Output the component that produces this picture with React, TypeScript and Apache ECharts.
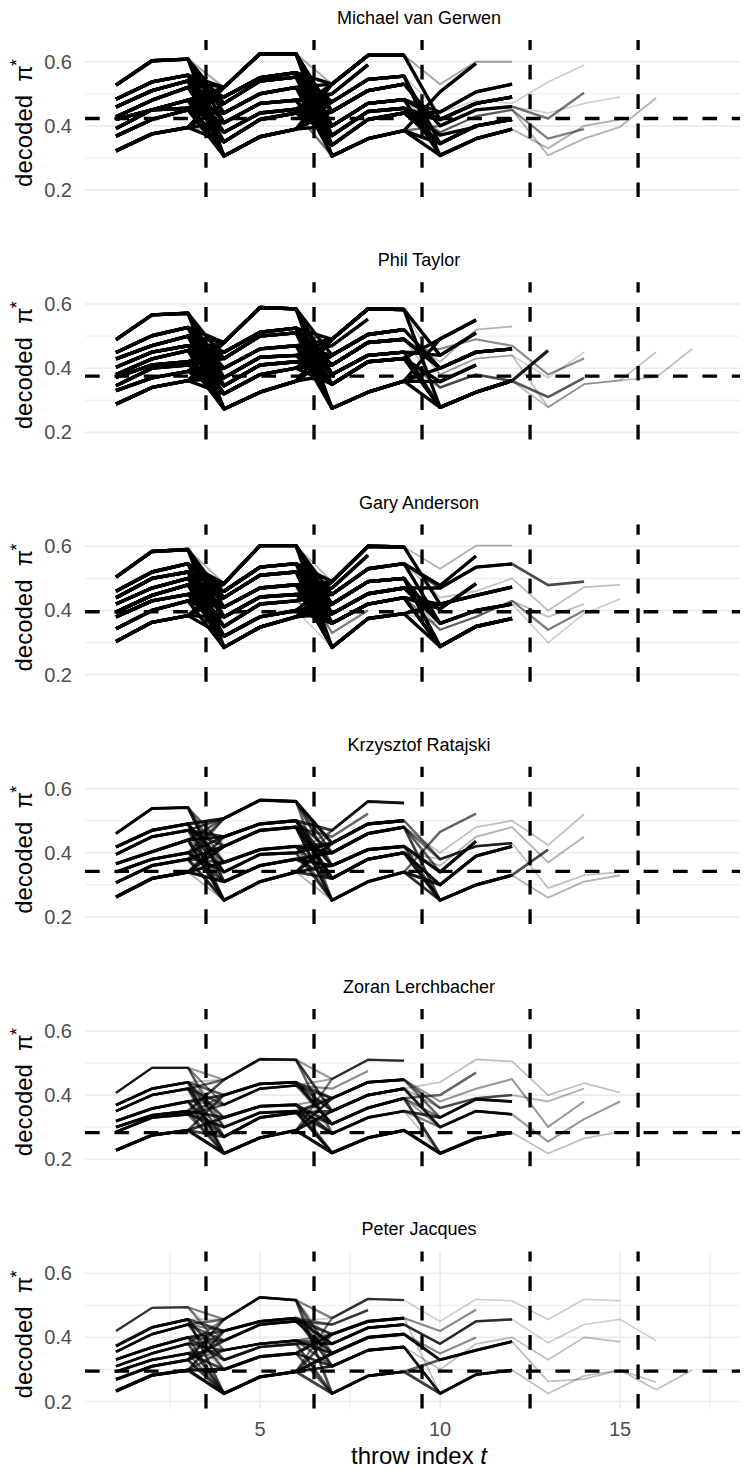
import React, { useEffect, useRef } from "react";
import * as echarts from "echarts";

// ---------------- data ----------------
const players = [
  "Michael van Gerwen",
  "Phil Taylor",
  "Gary Anderson",
  "Krzysztof Ratajski",
  "Zoran Lerchbacher",
  "Peter Jacques",
];
const refLevels = [0.423, 0.375, 0.396, 0.342, 0.283, 0.295];
const visitBreaks = [3.5, 6.5, 9.5, 12.5, 15.5];
const yTicks = [0.2, 0.4, 0.6];
const yGridMajor = [0.2, 0.4, 0.6];
const yGridMinor = [0.3, 0.5];
const xTicks = [5, 10, 15];
const xGridMajorLast = [5, 10, 15];
const xGridMinorLast = [2.5, 7.5, 12.5, 17.5];

// Each panel: decoded values per visit (three throws), the visit levels each leg passes through, and its frequency weight
const mvgLevels: number[][][] = [
  [[0.527, 0.603, 0.608], [0.483, 0.537, 0.558], [0.459, 0.51, 0.54], [0.428, 0.48, 0.52], [0.42, 0.45, 0.48], [0.392, 0.45, 0.455], [0.368, 0.42, 0.45], [0.322, 0.375, 0.395]],
  [[0.52, 0.625, 0.625], [0.49, 0.55, 0.566], [0.47, 0.54, 0.552], [0.44, 0.5, 0.52], [0.41, 0.47, 0.48], [0.38, 0.44, 0.452], [0.35, 0.42, 0.44], [0.306, 0.366, 0.39]],
  [[0.53, 0.62, 0.62], [0.5, 0.59], [0.475, 0.545, 0.555], [0.445, 0.51, 0.53], [0.4, 0.47, 0.482], [0.37, 0.445, 0.455], [0.34, 0.42, 0.44], [0.306, 0.36, 0.385]],
  [[0.506, 0.595], [0.443, 0.506, 0.53], [0.42, 0.47, 0.49], [0.371, 0.397], [0.345, 0.4, 0.42], [0.308, 0.36, 0.39], [0.53, 0.6, 0.6], [0.44, 0.48, 0.47], [0.4, 0.45, 0.46], [0.38, 0.43, 0.45]],
  [[0.537, 0.59], [0.423, 0.503], [0.44, 0.47, 0.49], [0.308, 0.36, 0.397], [0.36, 0.39], [0.33, 0.4, 0.42]],
  [[0.487]],
];
const mvgRoutes: number[][] = [
  [0, 2, 4], [1, 0, 3], [2, 7, 0], [3, 1, 6, 1], [4, 5, 2, 5], [5, 3, 7, 0], [6, 4, 1], [7, 6, 5, 2],
  [0, 7, 3], [7, 0, 7, 4], [1, 6, 0], [3, 2, 5, 3], [5, 1, 2], [2, 4, 6, 2], [4, 3, 4], [6, 7, 3],
  [1, 5, 4, 1], [4, 2, 6, 9, 4], [2, 6, 7, 8, 1], [0, 0, 0, 6], [3, 3, 2, 7, 0], [5, 4, 3, 8, 2],
  [7, 5, 4, 9, 3, 0], [6, 2, 5, 5, 5],
  [0, 4, 2], [0, 3, 5, 4], [1, 7, 4], [1, 2, 7, 5], [2, 0, 5], [2, 1, 3, 8], [3, 5, 0], [3, 6, 4, 2],
  [4, 0, 6], [4, 7, 2, 4], [5, 6, 3], [5, 0, 4, 5], [6, 1, 7], [6, 3, 0, 2], [7, 2, 3], [7, 4, 6, 4],
  [2, 5, 1], [4, 1, 0],
];
const mvgWeights = [
  1, 1, 1, 1, 1, 1, 1, 1, 1, 1, 1, 1, 1, 1, 1, 1,
  0.9, 0.5, 0.55, 0.35, 0.2, 0.2, 0.3, 0.3,
  1, 1, 1, 1, 1, 1, 1, 1, 1, 1, 1, 1, 1, 1, 1, 1, 1, 1,
];

const taylorLevels: number[][][] = [
  [[0.489, 0.566, 0.571], [0.449, 0.501, 0.527], [0.429, 0.47, 0.5], [0.403, 0.45, 0.47], [0.38, 0.429, 0.455], [0.371, 0.41, 0.42], [0.345, 0.4, 0.41], [0.33, 0.37, 0.39], [0.288, 0.34, 0.361]],
  [[0.48, 0.589, 0.585], [0.45, 0.512, 0.525], [0.43, 0.5, 0.51], [0.4, 0.46, 0.47], [0.37, 0.434, 0.44], [0.345, 0.41, 0.42], [0.32, 0.38, 0.4], [0.273, 0.325, 0.36]],
  [[0.49, 0.585, 0.583], [0.47, 0.553], [0.44, 0.505, 0.52], [0.41, 0.48, 0.49], [0.38, 0.44, 0.45], [0.35, 0.42, 0.43], [0.32, 0.38], [0.275, 0.325, 0.36]],
  [[0.491, 0.55], [0.44, 0.51], [0.4, 0.45, 0.46], [0.358, 0.41], [0.278, 0.325, 0.361], [0.42, 0.52, 0.53], [0.46, 0.49, 0.47], [0.38, 0.43, 0.44], [0.34, 0.38, 0.36]],
  [[0.455], [0.31, 0.37], [0.278, 0.35, 0.362], [0.38, 0.43], [0.37, 0.45]],
  [[0.45], [0.371, 0.46]],
];
const taylorRoutes: number[][] = [
  [0, 2, 3], [1, 0, 4], [2, 7, 0], [3, 1, 7, 4], [4, 5, 2], [5, 3, 7, 0], [6, 4, 1], [7, 6, 5, 3],
  [8, 0, 7], [0, 7, 2, 2], [1, 5, 3], [3, 2, 4, 1], [5, 1, 0], [8, 4, 5], [2, 6, 3], [7, 3, 2],
  [4, 0, 5, 4, 0], [6, 6, 5, 8, 1], [2, 3, 4, 6, 3], [3, 4, 3, 5], [0, 3, 2, 7, 2, 1], [7, 2, 3, 8, 2, 0],
  [5, 5, 0, 7, 4],
  [0, 4, 5], [0, 5, 3, 2], [1, 7, 2], [1, 3, 0, 4], [2, 0, 4], [2, 1, 7, 3], [3, 6, 0], [3, 5, 3, 2],
  [4, 7, 4], [4, 2, 5, 4], [5, 0, 2], [5, 7, 0, 1], [6, 1, 3], [6, 2, 7, 2], [7, 4, 0], [7, 0, 4, 4],
  [8, 6, 2], [8, 3, 5, 0],
];
const taylorWeights = [
  1, 1, 1, 1, 1, 1, 1, 1, 1, 1, 1, 1, 1, 1, 1, 1,
  0.9, 0.65, 0.45, 0.3, 0.25, 0.25, 0.2,
  1, 1, 1, 1, 1, 1, 1, 1, 1, 1, 1, 1, 1, 1, 1, 1, 1, 1,
];

const andersonLevels: number[][][] = [
  [[0.504, 0.584, 0.59], [0.46, 0.52, 0.546], [0.44, 0.5, 0.52], [0.42, 0.47, 0.5], [0.395, 0.447, 0.48], [0.38, 0.43, 0.45], [0.343, 0.4, 0.43], [0.303, 0.363, 0.384]],
  [[0.484, 0.602, 0.602], [0.46, 0.535, 0.546], [0.44, 0.51, 0.52], [0.41, 0.47, 0.48], [0.38, 0.442, 0.45], [0.35, 0.42, 0.43], [0.32, 0.38, 0.4], [0.285, 0.348, 0.38]],
  [[0.49, 0.6, 0.598], [0.47, 0.572], [0.45, 0.53, 0.546], [0.42, 0.49, 0.5], [0.39, 0.452, 0.47], [0.36, 0.42, 0.44], [0.33, 0.4], [0.285, 0.375, 0.39]],
  [[0.478, 0.57], [0.405, 0.484], [0.42, 0.447, 0.473], [0.288, 0.35, 0.375], [0.53, 0.602, 0.602], [0.47, 0.535, 0.545], [0.36, 0.4, 0.42], [0.44, 0.46, 0.5], [0.34, 0.38, 0.43]],
  [[0.479, 0.49], [0.34, 0.4], [0.3, 0.39, 0.436], [0.4, 0.473, 0.48], [0.38, 0.42]],
];
const andersonRoutes: number[][] = [
  [0, 2, 4], [1, 0, 3], [2, 7, 0], [3, 1, 5, 2], [4, 5, 2, 0], [5, 3, 7, 3], [6, 4, 1], [7, 6, 5, 1],
  [0, 7, 3], [7, 0, 7], [1, 6, 0], [3, 2, 5], [5, 1, 2, 6], [2, 4, 4, 5], [4, 3, 4], [6, 7, 3, 3],
  [3, 3, 2, 5, 0], [5, 5, 5, 8, 1], [6, 2, 6], [0, 0, 0, 4], [1, 2, 2, 7, 3], [4, 6, 7, 6, 2], [7, 4, 4, 8, 4],
  [0, 4, 2], [0, 3, 5, 3], [1, 7, 4], [1, 2, 7, 2], [2, 0, 5], [2, 1, 3, 6], [3, 5, 0], [3, 6, 4, 1],
  [4, 0, 2], [4, 7, 3, 3], [5, 6, 3], [5, 0, 4, 6], [6, 1, 7], [6, 3, 0, 2], [7, 2, 3], [7, 4, 5, 3],
  [2, 5, 1], [4, 1, 0],
];
const andersonWeights = [
  1, 1, 1, 1, 1, 1, 1, 1, 1, 1, 1, 1, 1, 1, 1, 1,
  0.7, 0.5, 0.5, 0.3, 0.25, 0.2, 0.25,
  1, 1, 1, 1, 1, 1, 1, 1, 1, 1, 1, 1, 1, 1, 1, 1, 1, 1,
];

const ratajskiLevels: number[][][] = [
  [[0.46, 0.538, 0.541], [0.418, 0.47, 0.49], [0.395, 0.45, 0.47], [0.366, 0.403, 0.44], [0.34, 0.38, 0.4], [0.307, 0.36, 0.38], [0.262, 0.32, 0.34]],
  [[0.507, 0.564, 0.56], [0.45, 0.49, 0.5], [0.42, 0.47, 0.48], [0.37, 0.41, 0.42], [0.34, 0.395, 0.4], [0.31, 0.36, 0.38], [0.252, 0.31, 0.34]],
  [[0.47, 0.56, 0.555], [0.45, 0.522], [0.43, 0.49, 0.5], [0.4, 0.46, 0.48], [0.36, 0.41, 0.42], [0.32, 0.38, 0.4], [0.252, 0.31, 0.34]],
  [[0.465, 0.522], [0.34, 0.436], [0.3, 0.39, 0.42], [0.252, 0.3, 0.33], [0.4, 0.48, 0.5], [0.38, 0.42, 0.43], [0.36, 0.45, 0.48]],
  [[0.41], [0.37, 0.45], [0.26, 0.31, 0.33], [0.424, 0.52], [0.28, 0.3], [0.29, 0.33, 0.34]],
];
const ratajskiRoutes: number[][] = [
  [0, 2, 1], [1, 0, 2], [2, 6, 0], [3, 1, 5, 3], [4, 4, 2], [5, 2, 6, 2], [6, 3, 3], [6, 5, 4, 1],
  [1, 6, 5], [2, 1, 4], [3, 5, 3, 5], [4, 0, 6, 0], [5, 3, 2], [0, 4, 0], [2, 2, 4, 3, 0],
  [3, 3, 3, 4, 3], [4, 2, 5, 6, 1], [6, 6, 6, 3, 2], [5, 5, 5, 5, 5],
  [0, 5, 3], [1, 3, 5, 2], [2, 0, 4], [2, 4, 6, 3], [3, 6, 2], [3, 0, 3, 1], [4, 1, 0], [4, 5, 5, 2],
  [5, 6, 4], [5, 0, 2, 5], [6, 2, 5], [6, 1, 3, 3], [1, 4, 2], [0, 3, 6],
];
const ratajskiWeights = [
  0.6, 0.9, 0.5, 0.9, 0.85, 0.9, 0.95, 0.95, 0.8, 0.8, 0.6, 0.6, 0.7, 0.45, 0.7,
  0.25, 0.3, 0.3, 0.25,
  0.85, 0.8, 0.7, 0.75, 0.9, 0.65, 0.8, 0.7, 0.85, 0.6, 0.9, 0.75, 0.7, 0.55,
];

const lerchbacherLevels: number[][][] = [
  [[0.407, 0.485, 0.485], [0.369, 0.42, 0.44], [0.35, 0.4, 0.42], [0.319, 0.358, 0.38], [0.3, 0.337, 0.35], [0.285, 0.33, 0.34], [0.228, 0.275, 0.29]],
  [[0.448, 0.512, 0.51], [0.4, 0.435, 0.44], [0.37, 0.42, 0.43], [0.33, 0.365, 0.37], [0.3, 0.345, 0.35], [0.27, 0.33, 0.345], [0.218, 0.267, 0.29]],
  [[0.45, 0.51, 0.507], [0.42, 0.475], [0.39, 0.44, 0.448], [0.35, 0.4, 0.42], [0.31, 0.36, 0.39], [0.28, 0.33, 0.35], [0.22, 0.267, 0.29]],
  [[0.44, 0.511, 0.505], [0.4, 0.47], [0.33, 0.387, 0.38], [0.3, 0.35, 0.34], [0.218, 0.265, 0.283], [0.38, 0.42, 0.45], [0.36, 0.39, 0.4]],
  [[0.4, 0.437, 0.408], [0.301, 0.38], [0.255, 0.325, 0.38], [0.218, 0.265, 0.285], [0.38, 0.42]],
];
const lerchbacherRoutes: number[][] = [
  [0, 0, 0], [1, 1, 2], [2, 2, 4, 1], [3, 5, 3], [4, 3, 5, 2], [5, 4, 6], [6, 6, 6, 4], [6, 5, 2],
  [1, 4, 5], [2, 6, 3, 3], [3, 2, 1], [5, 1, 4, 2], [4, 6, 2, 6], [0, 2, 0],
  [1, 0, 3, 0, 0], [2, 3, 2, 5, 1], [4, 4, 4, 3, 2], [3, 1, 5, 4, 3], [0, 2, 3, 6, 4],
  [0, 4, 2], [1, 6, 3, 3], [2, 0, 5], [2, 5, 6, 4], [3, 1, 4], [3, 6, 2, 2], [4, 0, 3], [4, 5, 5, 3],
  [5, 2, 2], [5, 6, 0], [6, 3, 4, 4], [6, 1, 3], [1, 3, 6], [0, 5, 4],
];
const lerchbacherWeights = [
  0.4, 0.65, 0.6, 0.75, 0.8, 0.8, 0.95, 0.75, 0.6, 0.65, 0.45, 0.55, 0.6, 0.35,
  0.25, 0.4, 0.4, 0.25, 0.3,
  0.45, 0.7, 0.6, 0.65, 0.75, 0.6, 0.7, 0.5, 0.65, 0.55, 0.8, 0.7, 0.6, 0.45,
];

const jacquesLevels: number[][][] = [
  [[0.42, 0.492, 0.494], [0.373, 0.431, 0.456], [0.355, 0.41, 0.44], [0.331, 0.369, 0.4], [0.31, 0.35, 0.38], [0.293, 0.33, 0.35], [0.269, 0.31, 0.33], [0.233, 0.282, 0.298]],
  [[0.456, 0.525, 0.516], [0.42, 0.45, 0.46], [0.39, 0.44, 0.45], [0.36, 0.38, 0.39], [0.33, 0.37, 0.38], [0.3, 0.34, 0.35], [0.225, 0.277, 0.293]],
  [[0.46, 0.52, 0.516], [0.44, 0.485], [0.41, 0.45, 0.46], [0.38, 0.43, 0.44], [0.35, 0.4, 0.41], [0.31, 0.36, 0.37], [0.225, 0.28, 0.293]],
  [[0.45, 0.519, 0.514], [0.42, 0.486], [0.38, 0.45, 0.456], [0.35, 0.4], [0.33, 0.36, 0.387], [0.225, 0.284, 0.298], [0.3, 0.38, 0.4]],
  [[0.456, 0.519, 0.514], [0.383, 0.44, 0.456], [0.263, 0.27, 0.298], [0.225, 0.28, 0.298], [0.33, 0.4, 0.387]],
  [[0.39], [0.237, 0.298], [0.26]],
];
const jacquesRoutes: number[][] = [
  [0, 0, 0], [1, 1, 2], [2, 2, 1], [3, 4, 3], [4, 3, 4, 4], [5, 5, 5], [6, 6, 6, 5], [7, 6, 4],
  [7, 5, 2], [1, 4, 6], [2, 1, 3, 2], [3, 6, 5], [4, 2, 2, 1], [6, 3, 4, 3], [5, 1, 1],
  [0, 2, 0, 0, 0], [1, 0, 3, 2, 1, 0], [3, 5, 5, 6, 4], [5, 4, 2, 5, 3, 1], [2, 3, 4, 4, 2, 2],
  [0, 3, 2], [1, 6, 5, 5], [2, 0, 4], [2, 5, 6, 4], [3, 1, 5], [3, 2, 3, 2], [4, 6, 2], [4, 0, 5, 5],
  [5, 3, 3], [5, 6, 0], [6, 2, 4, 4], [6, 0, 6], [7, 1, 3], [7, 3, 5, 5],
];
const jacquesWeights = [
  0.5, 0.7, 0.6, 0.7, 0.65, 0.75, 0.75, 0.95, 0.9, 0.7, 0.5, 0.6, 0.45, 0.45, 0.5,
  0.2, 0.2, 0.25, 0.25, 0.25,
  0.5, 0.7, 0.6, 0.65, 0.75, 0.6, 0.7, 0.5, 0.65, 0.55, 0.8, 0.7, 0.75, 0.6,
];

const panelLevels = [mvgLevels, taylorLevels, andersonLevels, ratajskiLevels, lerchbacherLevels, jacquesLevels];
const panelRoutes = [mvgRoutes, taylorRoutes, andersonRoutes, ratajskiRoutes, lerchbacherRoutes, jacquesRoutes];
const panelWeights = [mvgWeights, taylorWeights, andersonWeights, ratajskiWeights, lerchbacherWeights, jacquesWeights];

// ---------------- layout ----------------
const FONT = "'Liberation Sans', Arial, Helvetica, sans-serif";
const X_MIN = 0.14;
const X_MAX = 18.33;
const Y_MIN = 0.178;
const Y_MAX = 0.668;
const GRID_LEFT = 85;
const GRID_WIDTH = 655;
const GRID_TOP0 = 39.9;
const PANEL_STEP = 242.3;
const GRID_HEIGHT = 157.2;
const DASH = [14.7, 14.7];

function buildPath(levels: number[][][], route: number[]): number[][] {
  const vals: number[] = [];
  route.forEach((k, v) => {
    levels[v][k].forEach((y) => vals.push(y));
  });
  return vals.map((y, i) => [i + 1, y]);
}

function rotText(text: string, x: number, y: number, fontSize: number) {
  return {
    type: "text",
    x,
    y,
    rotation: Math.PI / 2,
    style: {
      text,
      fontSize,
      fontFamily: FONT,
      fill: "#000",
      align: "center",
      verticalAlign: "middle",
      textAlign: "center",
      textVerticalAlign: "middle",
    },
  };
}

function buildOption() {
  const grid: any[] = [];
  const xAxis: any[] = [];
  const yAxis: any[] = [];
  const series: any[] = [];
  const graphic: any[] = [];

  players.forEach((name, i) => {
    const top = GRID_TOP0 + i * PANEL_STEP;
    const last = i === players.length - 1;
    grid.push({ left: GRID_LEFT, width: GRID_WIDTH, top, height: GRID_HEIGHT, containLabel: false });
    xAxis.push({
      type: "value",
      gridIndex: i,
      min: X_MIN,
      max: X_MAX,
      axisLine: { show: false },
      axisTick: { show: false },
      splitLine: { show: false },
      axisLabel: last
        ? { show: true, customValues: xTicks, color: "#4d4d4d", fontSize: 20, fontFamily: FONT, margin: 10 }
        : { show: false },
    });
    yAxis.push({
      type: "value",
      gridIndex: i,
      min: Y_MIN,
      max: Y_MAX,
      axisLine: { show: false },
      axisTick: { show: false },
      splitLine: { show: false },
      axisLabel: {
        show: true,
        customValues: yTicks,
        formatter: (v: number) => v.toFixed(1),
        color: "#4d4d4d",
        fontSize: 20,
        fontFamily: FONT,
        margin: 13,
      },
    });

    const base = { type: "line", xAxisIndex: i, yAxisIndex: i, symbol: "none", silent: true, animation: false };

    // grid lines
    yGridMajor.forEach((y) =>
      series.push({ ...base, z: 1, data: [[X_MIN, y], [X_MAX, y]], lineStyle: { color: "#ebebeb", width: 1.6 } })
    );
    yGridMinor.forEach((y) =>
      series.push({ ...base, z: 1, data: [[X_MIN, y], [X_MAX, y]], lineStyle: { color: "#ebebeb", width: 1.0 } })
    );
    if (last) {
      xGridMajorLast.forEach((x) =>
        series.push({ ...base, z: 1, data: [[x, Y_MIN], [x, Y_MAX]], lineStyle: { color: "#ebebeb", width: 1.6 } })
      );
      xGridMinorLast.forEach((x) =>
        series.push({ ...base, z: 1, data: [[x, Y_MIN], [x, Y_MAX]], lineStyle: { color: "#ebebeb", width: 1.0 } })
      );
    }

    // trajectories (light first, heavy on top)
    const levels = panelLevels[i];
    const routes = panelRoutes[i];
    const weights = panelWeights[i];
    const order = routes.map((_, j) => j).sort((a, b) => weights[a] - weights[b]);
    order.forEach((j) => {
      const w = weights[j];
      series.push({
        ...base,
        z: 2,
        data: buildPath(levels, routes[j]),
        lineStyle: { color: "#000000", width: 1.2 + 2.2 * w, opacity: w, cap: "butt", join: "round" },
      });
    });

    // dashed reference lines
    visitBreaks.forEach((x) =>
      series.push({ ...base, z: 3, data: [[x, Y_MIN], [x, Y_MAX]], lineStyle: { color: "#000", width: 3.3, type: DASH } })
    );
    series.push({
      ...base,
      z: 3,
      data: [[X_MIN, refLevels[i]], [X_MAX, refLevels[i]]],
      lineStyle: { color: "#000", width: 3.3, type: DASH },
    });

    // panel title
    graphic.push({
      type: "text",
      x: 419,
      y: top - 22,
      style: {
        text: name,
        fontSize: 18,
        fontFamily: FONT,
        fill: "#000",
        align: "center",
        verticalAlign: "middle",
        textAlign: "center",
        textVerticalAlign: "middle",
      },
    });

    // y axis title: decoded  pi^*
    graphic.push(rotText("decoded", 23, top + 101, 24));
    graphic.push(rotText("\u03c0", 23, top + 33.5, 24));
    graphic.push(rotText("*", 17, top + 22.5, 18));
  });

  // x axis title
  graphic.push({
    type: "text",
    x: 419,
    y: 1455,
    style: {
      text: "{n|throw index }{t|t}",
      fontSize: 24,
      fontFamily: FONT,
      fill: "#000",
      align: "center",
      verticalAlign: "middle",
      textAlign: "center",
      textVerticalAlign: "middle",
      rich: {
        n: { fontSize: 24, fontFamily: FONT, fill: "#000", color: "#000" },
        t: { fontSize: 24, fontFamily: FONT, fontStyle: "italic", fill: "#000", color: "#000" },
      },
    },
  });

  return {
    animation: false,
    backgroundColor: "#ffffff",
    grid,
    xAxis,
    yAxis,
    series,
    graphic,
  };
}

export default function App() {
  const ref = useRef<HTMLDivElement>(null);
  useEffect(() => {
    if (!ref.current) return;
    const chart = echarts.init(ref.current, undefined, { renderer: "svg" });
    chart.setOption(buildOption() as any);
    return () => chart.dispose();
  }, []);
  return (
    <div
      ref={ref}
      style={{ position: "absolute", left: 0, top: 0, width: 755, height: 1470, background: "#fff" }}
    />
  );
}
